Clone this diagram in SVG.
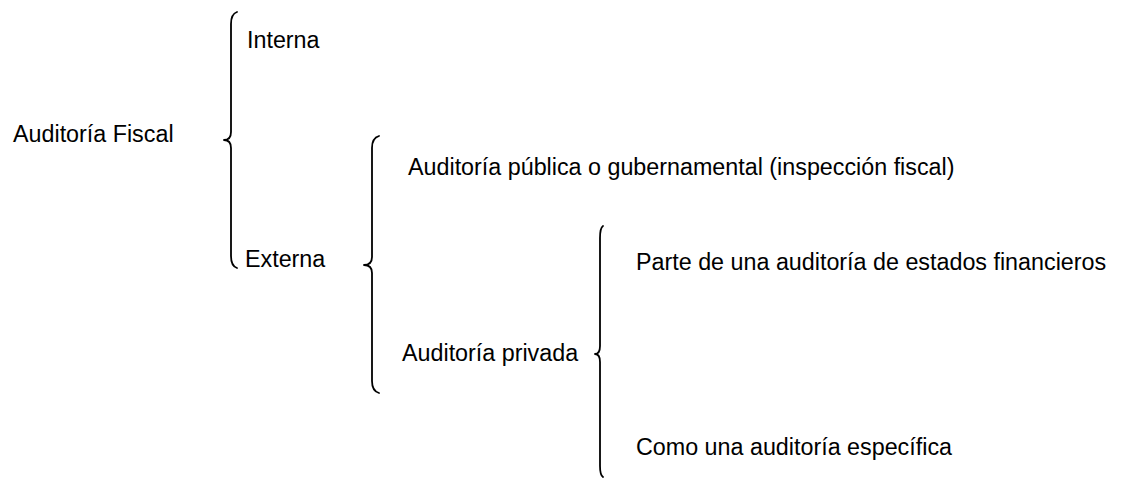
<svg xmlns="http://www.w3.org/2000/svg" width="1126" height="478" viewBox="0 0 1126 478">
<style>
  text { font-family: "Liberation Sans", Arial, sans-serif; font-size: 23.3px; fill: #000; font-variant-ligatures: none; }
  .brace { fill: none; stroke: #000; stroke-width: 1.8; stroke-linecap: round; stroke-linejoin: round; }
</style>
<rect width="1126" height="478" fill="#fff"/>
<g id="connectors">
  <path class="brace" d="M237,12 Q231,14 231,24 L231,132 Q231,140 224,140 Q231,140 231,148 L231,256 Q231,266 237,268"/>
  <path class="brace" d="M379,136 Q372,138 372,148 L372,257 Q372,265 364,265 Q372,265 372,273 L372,381 Q372,391 379,393"/>
  <path class="brace" d="M603,226 Q600,228 600,238 L600,346 Q600,354 595,354 Q600,354 600,362 L600,466 Q600,475 603,477"/>
</g>
<g id="n-auditoria-fiscal"><text x="13" y="142">Auditoría Fiscal</text></g>
<g id="n-interna"><text x="247" y="48">Interna</text></g>
<g id="n-externa"><text x="245" y="267">Externa</text></g>
<g id="n-publica"><text x="408" y="175">Auditoría pública o gubernamental (inspección fiscal)</text></g>
<g id="n-privada"><text x="402" y="361">Auditoría privada</text></g>
<g id="n-parte"><text x="636" y="270">Parte de una auditoría de estados financieros</text></g>
<g id="n-como"><text x="636" y="455">Como una auditoría específica</text></g>
</svg>
